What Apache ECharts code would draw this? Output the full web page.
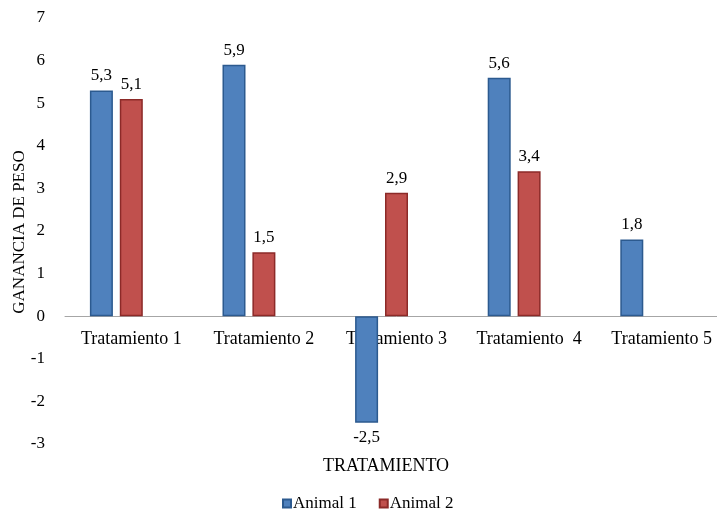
<!DOCTYPE html>
<html>
<head>
<meta charset="utf-8">
<script src="https://cdn.jsdelivr.net/npm/echarts@6/dist/echarts.min.js"></script>
<style>
  html, body { margin: 0; padding: 0; background: #fff; overflow: hidden; }
  /* the original plot runs past the right edge of the picture */
  #chart { width: 728px; height: 511px; }
</style>
</head>
<body>
<div id="chart"></div>
<script>
const categories = ['Tratamiento 1', 'Tratamiento 2', 'Tratamiento 3', 'Tratamiento  4', 'Tratamiento 5'];
const animal1 = [5.3, 5.9, -2.5, 5.6, 1.8];
const animal2 = [5.1, 1.5, 2.9, 3.4, null];
// Excel left an empty third series, which shifts the bars left in each group
const emptySeries = [null, null, null, null, null];

const font = 'Liberation Serif, Times New Roman, serif';
const fmt = p => String(p.value).replace('.', ',');

const toData = arr => arr.map(v => v == null ? null : ({
  value: v,
  label: { position: v < 0 ? 'bottom' : 'top' }
}));

const chart = echarts.init(document.getElementById('chart'));
chart.setOption({
  animation: false,
  textStyle: { fontFamily: font, color: '#000' },
  grid: { left: 65, right: 0, top: 18, bottom: 67, outerBoundsMode: 'none', containLabel: false },
  title: {
    text: 'TRATAMIENTO',
    left: 381,
    top: 452,
    textAlign: 'center',
    textStyle: { fontFamily: font, fontSize: 18, fontWeight: 'normal', color: '#000' }
  },
  // y axis title, placed by hand so it sits where Excel put it
  graphic: [{
    type: 'text',
    x: 20,
    y: 232,
    rotation: Math.PI / 2,
    style: {
      text: 'GANANCIA DE PESO',
      font: '17px ' + font,
      fill: '#000',
      align: 'center',
      verticalAlign: 'middle'
    }
  }],
  legend: {
    data: ['Animal 1', 'Animal 2'],
    icon: 'rect',
    top: 490,
    left: 277,
    itemWidth: 8,
    itemHeight: 8,
    itemGap: 22,
    textStyle: { fontFamily: font, fontSize: 17, color: '#000', padding: [0, 0, 0, -3] }
  },
  xAxis: {
    type: 'category',
    data: categories,
    offset: -128,
    axisLine: { onZero: false, lineStyle: { color: '#a6a6a6', width: 1 } },
    axisTick: { show: false },
    axisLabel: { interval: 0, fontFamily: font, fontSize: 18, color: '#000', margin: 14 }
  },
  yAxis: {
    type: 'value',
    min: -3,
    max: 7,
    interval: 1,
    axisLine: { show: false },
    axisTick: { show: false },
    splitLine: { show: false },
    axisLabel: { fontFamily: font, fontSize: 17, color: '#000', margin: 20 }
  },
  series: [
    {
      name: 'Animal 1',
      type: 'bar',
      data: toData(animal1),
      barWidth: 23,
      barGap: '30%',
      itemStyle: { color: '#4f81bd', borderColor: '#2c5a8f', borderWidth: 1.5 },
      label: { show: true, distance: 6, fontFamily: font, fontSize: 17, color: '#000', formatter: fmt }
    },
    {
      name: 'Animal 2',
      type: 'bar',
      data: toData(animal2),
      barWidth: 23,
      barGap: '30%',
      itemStyle: { color: '#c0504d', borderColor: '#8c2a28', borderWidth: 1.5 },
      label: { show: true, distance: 6, fontFamily: font, fontSize: 17, color: '#000', formatter: fmt }
    },
    {
      name: 'Serie 3',
      type: 'bar',
      data: emptySeries,
      barWidth: 23,
      barGap: '30%'
    }
  ]
});
</script>
</body>
</html>
